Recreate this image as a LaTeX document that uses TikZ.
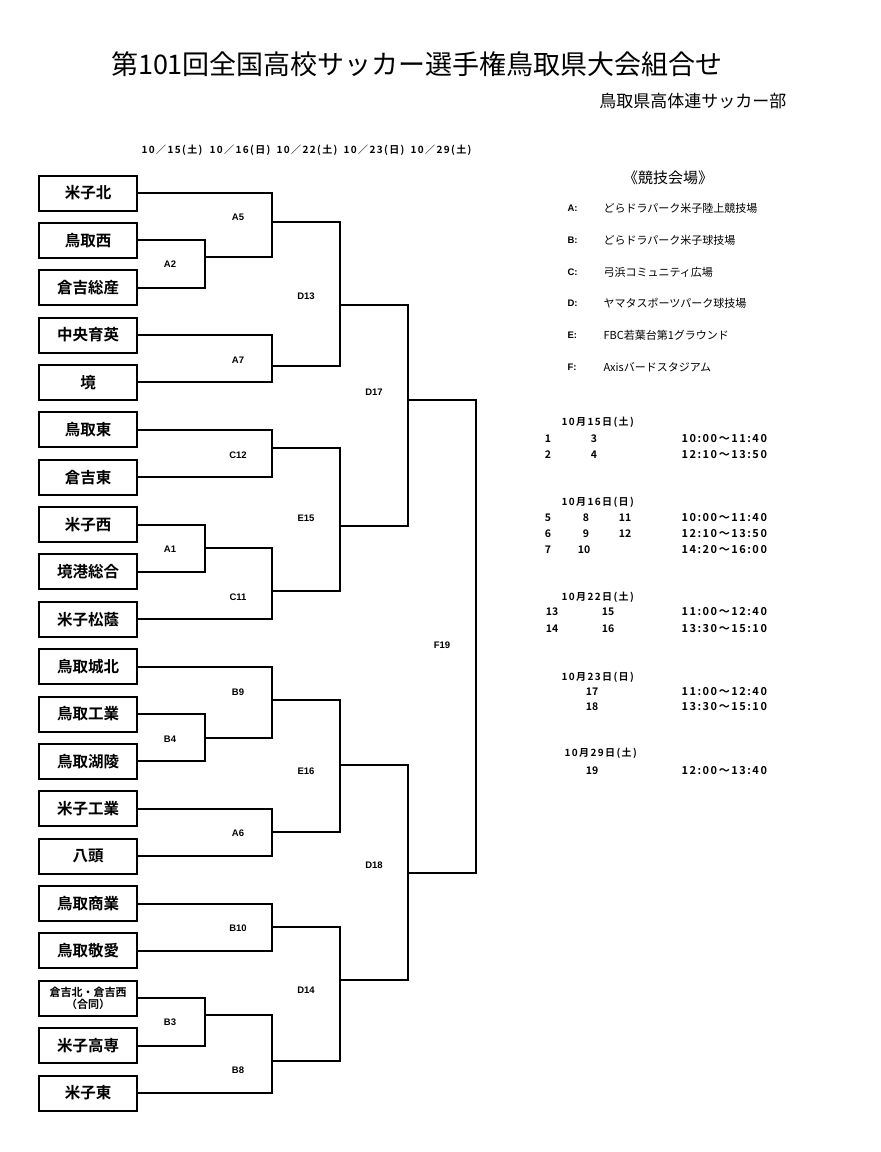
\documentclass[tikz,border=0pt]{standalone}
\usepackage{fontspec}
\setmainfont{Noto Sans CJK JP}[BoldFont={Noto Sans CJK JP Bold}]
\newfontfamily\latfont{Liberation Sans}
\usetikzlibrary{calc}

\begin{document}
\begin{tikzpicture}
[x=1pt,y=-1pt,
  teambox/.style={shape=rectangle,draw,line width=2pt,minimum width=98pt,
    minimum height=35pt,inner sep=0pt,align=center,
    font=\bfseries\fontsize{15.5}{16}\selectfont},
  bracketline/.style={-,line width=2pt},
  matchlabel/.style={font=\latfont\bfseries\fontsize{9.5}{10}\selectfont},
  daylabel/.style={font=\bfseries\fontsize{10}{11}\selectfont\addfontfeature{LetterSpace=14}},
  venuekey/.style={anchor=west,font=\latfont\bfseries\fontsize{9.5}{10}\selectfont},
  venuetext/.style={anchor=west,font=\fontsize{11}{12}\selectfont},
  gamenum/.style={font=\bfseries\fontsize{10.5}{11}\selectfont},
  gametime/.style={anchor=west,font=\bfseries\fontsize{11}{12}\selectfont\addfontfeature{LetterSpace=14}}]
\useasboundingbox (0,0) rectangle (881,1152);
%% titles
\node (title) at (417,64) {\fontsize{27}{30}\selectfont 第101回全国高校サッカー選手権鳥取県大会組合せ};
\node[anchor=east] (club) at (790,101) {\fontsize{17}{18}\selectfont 鳥取県高体連サッカー部};
\foreach \x/\day [count=\k] in {172/10／15(土), 240/10／16(日), 307/10／22(土),
  374/10／23(日), 441/10／29(土)}
{
  \node[daylabel] (day\k) at (\x,150) {\day};
}
%% teams
\foreach \i/\teamname in {0/米子北, 1/鳥取西, 2/倉吉総産, 3/中央育英, 4/境,
  5/鳥取東, 6/倉吉東, 7/米子西, 8/境港総合, 9/米子松蔭, 10/鳥取城北,
  11/鳥取工業, 12/鳥取湖陵, 13/米子工業, 14/八頭, 15/鳥取商業,
  16/鳥取敬愛, 18/米子高専, 19/米子東}
{
  \node[teambox] (t\i) at (88,{193+47.37*\i}) {\teamname};
}
\node[teambox,font=\bfseries\fontsize{11}{12.5}\selectfont] (t17) at (88,{193+47.37*17})
  {倉吉北・倉吉西\\（合同）};
%% match points
\foreach \mname/\x/\y in {A2/205/257, A5/272/222, A7/272/366, D13/340/305,
  C12/272/448, A1/205/548, C11/272/591, E15/340/526, D17/408/400,
  B4/205/738, B9/272/700, A6/272/832, E16/340/765, B10/272/927,
  B3/205/1015, B8/272/1061, D14/340/980, D18/408/873, F19/476/640}
{
  \coordinate (m\mname) at (\x,\y);
}
%% bracket lines
\foreach \startnode/\endnode in {t0/mA5, t1/mA2, t2/mA2, mA2/mA5, t3/mA7, t4/mA7,
  mA5/mD13, mA7/mD13, t5/mC12, t6/mC12, t7/mA1, t8/mA1, mA1/mC11, t9/mC11,
  mC12/mE15, mC11/mE15, mD13/mD17, mE15/mD17, t10/mB9, t11/mB4, t12/mB4,
  mB4/mB9, t13/mA6, t14/mA6, mB9/mE16, mA6/mE16, t15/mB10, t16/mB10,
  t17/mB3, t18/mB3, mB3/mB8, t19/mB8, mB10/mD14, mB8/mD14, mE16/mD18,
  mD14/mD18, mD17/mF19, mD18/mF19}
{
  \draw[bracketline] (\startnode) -| (\endnode);
}
%% match labels
\foreach \mname/\x/\y in {A5/238/217, A2/170/264, D13/306/296, A7/238/360,
  D17/374/392, C12/238/455, E15/306/518, A1/170/549, C11/238/597,
  F19/442/645, B9/238/692, B4/170/739, E16/306/771, A6/238/833,
  D18/374/865, B10/238/928, D14/306/990, B3/170/1022, B8/238/1070}
{
  \node[matchlabel] (l\mname) at (\x,\y) {\mname};
}
%% venues
\node (venues) at (668,178) {\fontsize{15}{16}\selectfont 《競技会場》};
\foreach \v/\y/\place [count=\k] in {A/208/どらドラパーク米子陸上競技場,
  B/240/どらドラパーク米子球技場, C/272/弓浜コミュニティ広場,
  D/303/ヤマタスポーツパーク球技場, E/335/FBC若葉台第1グラウンド,
  F/367/Axisバードスタジアム}
{
  \node[venuekey] (vk\k) at (564,\y) {\v:};
  \node[venuetext] (vt\k) at (600,\y) {\place};
}
%% schedule
\foreach \y/\day [count=\k] in {422/10月15日(土), 502/10月16日(日),
  597/10月22日(土), 677/10月23日(日)}
{
  \node[daylabel,anchor=west] (sd\k) at (558,\y) {\day};
}
\node[daylabel,anchor=west] (sd5) at (561,753) {10月29日(土)};
\foreach \n/\x/\y in {1/548/439, 3/594/439, 2/548/455, 4/594/455,
  5/548/518, 8/586/518, 11/625/518, 6/548/534, 9/586/534, 12/625/534,
  7/548/550, 10/584/550, 13/552/612, 15/608/612, 14/552/629, 16/608/629,
  17/592/692, 18/592/707, 19/592/771}
{
  \node[gamenum] (g\n) at (\x,\y) {\n};
}
\foreach \y/\slot [count=\k] in {439/10:00～11:40, 455/12:10～13:50,
  518/10:00～11:40, 534/12:10～13:50, 550/14:20～16:00,
  612/11:00～12:40, 629/13:30～15:10, 692/11:00～12:40,
  707/13:30～15:10, 771/12:00～13:40}
{
  \node[gametime] (st\k) at (678,\y) {\slot};
}
\end{tikzpicture}
\end{document}
